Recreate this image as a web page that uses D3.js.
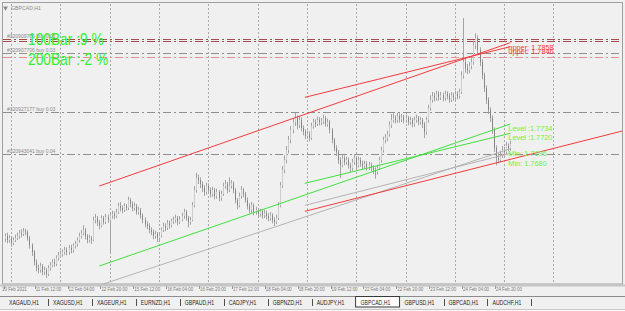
<!DOCTYPE html>
<html>
<head>
<meta charset="utf-8">
<script src="https://cdn.jsdelivr.net/npm/d3@7"></script>
<style>
body { margin: 0; background: #f0f0f0; overflow: hidden; }
svg { display: block; font-family: "Liberation Sans", Arial, sans-serif; }
</style>
</head>
<body>
<div id="chart"></div>
<script>
// GBPCAD H1 candles, bar 0 = 10 Feb 21:00
const opens = [1.7561,1.7565,1.7559,1.7562,1.7554,1.7559,1.7562,1.7565,1.7569,1.7568,
1.7572,1.7571,1.7562,1.7551,1.7541,1.7526,1.7517,1.7514,1.7520,1.7511,
1.7514,1.7508,1.7517,1.7521,1.7526,1.7523,1.7532,1.7536,1.7538,1.7541,
1.7544,1.7541,1.7547,1.7544,1.7550,1.7553,1.7559,1.7565,1.7569,1.7574,
1.7565,1.7559,1.7562,1.7559,1.7589,1.7592,1.7586,1.7581,1.7592,1.7586,
1.7593,1.7589,1.7596,1.7598,1.7595,1.7601,1.7610,1.7607,1.7604,1.7610,
1.7607,1.7619,1.7613,1.7607,1.7610,1.7601,1.7604,1.7596,1.7589,1.7583,
1.7580,1.7574,1.7571,1.7565,1.7568,1.7562,1.7566,1.7574,1.7580,1.7577,
1.7584,1.7581,1.7587,1.7589,1.7592,1.7586,1.7590,1.7595,1.7601,1.7592,
1.7586,1.7589,1.7611,1.7634,1.7652,1.7649,1.7643,1.7637,1.7631,1.7640,
1.7634,1.7628,1.7634,1.7625,1.7631,1.7622,1.7628,1.7640,1.7643,1.7634,
1.7640,1.7644,1.7634,1.7619,1.7611,1.7625,1.7634,1.7628,1.7619,1.7610,
1.7604,1.7611,1.7601,1.7604,1.7598,1.7602,1.7596,1.7599,1.7595,1.7592,
1.7596,1.7589,1.7586,1.7592,1.7611,1.7641,1.7664,1.7679,1.7694,1.7709,
1.7724,1.7736,1.7742,1.7731,1.7739,1.7727,1.7721,1.7715,1.7718,1.7712,
1.7730,1.7736,1.7733,1.7739,1.7736,1.7737,1.7742,1.7733,1.7736,1.7724,
1.7709,1.7697,1.7691,1.7679,1.7671,1.7682,1.7676,1.7679,1.7671,1.7667,
1.7676,1.7682,1.7671,1.7679,1.7674,1.7670,1.7673,1.7668,1.7671,1.7667,
1.7664,1.7661,1.7667,1.7679,1.7694,1.7709,1.7712,1.7718,1.7731,1.7739,
1.7742,1.7739,1.7745,1.7740,1.7743,1.7739,1.7742,1.7736,1.7739,1.7733,
1.7739,1.7742,1.7736,1.7739,1.7733,1.7721,1.7739,1.7757,1.7769,1.7775,
1.7772,1.7778,1.7773,1.7776,1.7772,1.7778,1.7775,1.7770,1.7776,1.7773,
1.7778,1.7775,1.7781,1.7806,1.7826,1.7817,1.7814,1.7820,1.7826,1.7851,
1.7862,1.7844,1.7826,1.7806,1.7787,1.7769,1.7754,1.7742,1.7724,1.7697,
1.7682,1.7679,1.7686,1.7694,1.7691,1.7700,1.7697];
const highs = [1.7569,1.7570,1.7566,1.7565,1.7563,1.7567,1.7570,1.7574,1.7575,1.7577,
1.7576,1.7574,1.7565,1.7554,1.7544,1.7530,1.7522,1.7525,1.7523,1.7519,
1.7517,1.7521,1.7526,1.7530,1.7531,1.7536,1.7541,1.7543,1.7545,1.7549,
1.7548,1.7551,1.7552,1.7554,1.7558,1.7563,1.7570,1.7574,1.7581,1.7577,
1.7568,1.7567,1.7565,1.7594,1.7598,1.7595,1.7589,1.7596,1.7595,1.7598,
1.7597,1.7600,1.7603,1.7602,1.7606,1.7615,1.7616,1.7611,1.7614,1.7613,
1.7624,1.7622,1.7617,1.7615,1.7613,1.7609,1.7607,1.7599,1.7593,1.7587,
1.7584,1.7578,1.7575,1.7573,1.7571,1.7570,1.7578,1.7585,1.7584,1.7589,
1.7588,1.7591,1.7594,1.7597,1.7595,1.7595,1.7600,1.7606,1.7604,1.7595,
1.7594,1.7616,1.7640,1.7660,1.7657,1.7653,1.7647,1.7641,1.7645,1.7644,
1.7638,1.7639,1.7637,1.7636,1.7634,1.7633,1.7645,1.7649,1.7646,1.7653,
1.7649,1.7647,1.7637,1.7622,1.7630,1.7640,1.7637,1.7631,1.7623,1.7614,
1.7616,1.7614,1.7609,1.7607,1.7606,1.7605,1.7604,1.7603,1.7599,1.7601,
1.7599,1.7593,1.7597,1.7616,1.7646,1.7670,1.7686,1.7700,1.7715,1.7730,
1.7742,1.7750,1.7746,1.7745,1.7743,1.7731,1.7725,1.7723,1.7722,1.7735,
1.7741,1.7740,1.7744,1.7743,1.7742,1.7747,1.7745,1.7741,1.7739,1.7727,
1.7712,1.7701,1.7694,1.7683,1.7687,1.7686,1.7684,1.7683,1.7675,1.7681,
1.7688,1.7685,1.7684,1.7683,1.7678,1.7678,1.7677,1.7676,1.7675,1.7671,
1.7668,1.7672,1.7684,1.7699,1.7714,1.7718,1.7723,1.7737,1.7748,1.7749,
1.7746,1.7750,1.7749,1.7748,1.7747,1.7747,1.7745,1.7744,1.7742,1.7744,
1.7747,1.7745,1.7744,1.7742,1.7736,1.7744,1.7762,1.7776,1.7781,1.7780,
1.7783,1.7782,1.7781,1.7780,1.7783,1.7782,1.7779,1.7781,1.7780,1.7783,
1.7782,1.7786,1.7812,1.7892,1.7832,1.7823,1.7826,1.7834,1.7858,1.7869,
1.7866,1.7848,1.7830,1.7810,1.7791,1.7773,1.7758,1.7746,1.7728,1.7701,
1.7689,1.7693,1.7700,1.7699,1.7706,1.7704,1.7708];
const lows = [1.7556,1.7554,1.7555,1.7549,1.7551,1.7556,1.7559,1.7561,1.7563,1.7565,
1.7566,1.7558,1.7546,1.7535,1.7521,1.7512,1.7509,1.7510,1.7506,1.7507,
1.7502,1.7505,1.7513,1.7518,1.7519,1.7520,1.7528,1.7532,1.7534,1.7537,
1.7536,1.7537,1.7539,1.7540,1.7546,1.7549,1.7555,1.7561,1.7566,1.7560,
1.7554,1.7555,1.7553,1.7557,1.7584,1.7580,1.7575,1.7578,1.7582,1.7583,
1.7585,1.7541,1.7591,1.7590,1.7592,1.7598,1.7602,1.7599,1.7601,1.7603,
1.7604,1.7608,1.7602,1.7603,1.7597,1.7597,1.7591,1.7584,1.7578,1.7575,
1.7569,1.7566,1.7560,1.7561,1.7556,1.7557,1.7563,1.7571,1.7572,1.7574,
1.7576,1.7578,1.7583,1.7585,1.7581,1.7583,1.7587,1.7591,1.7588,1.7578,
1.7582,1.7587,1.7608,1.7630,1.7643,1.7637,1.7631,1.7625,1.7627,1.7629,
1.7623,1.7624,1.7620,1.7621,1.7617,1.7618,1.7625,1.7636,1.7629,1.7631,
1.7636,1.7629,1.7614,1.7605,1.7608,1.7621,1.7623,1.7615,1.7605,1.7599,
1.7600,1.7596,1.7597,1.7593,1.7594,1.7591,1.7592,1.7590,1.7587,1.7588,
1.7584,1.7580,1.7583,1.7589,1.7608,1.7637,1.7659,1.7674,1.7689,1.7704,
1.7719,1.7730,1.7725,1.7727,1.7722,1.7716,1.7710,1.7711,1.7707,1.7709,
1.7726,1.7728,1.7730,1.7731,1.7731,1.7733,1.7729,1.7729,1.7719,1.7704,
1.7692,1.7685,1.7673,1.7652,1.7668,1.7671,1.7672,1.7666,1.7661,1.7663,
1.7672,1.7666,1.7668,1.7669,1.7665,1.7666,1.7663,1.7664,1.7662,1.7658,
1.7651,1.7657,1.7664,1.7675,1.7690,1.7704,1.7707,1.7714,1.7727,1.7735,
1.7734,1.7735,1.7735,1.7736,1.7734,1.7735,1.7731,1.7732,1.7728,1.7729,
1.7735,1.7731,1.7732,1.7727,1.7712,1.7717,1.7735,1.7753,1.7765,1.7767,
1.7768,1.7768,1.7769,1.7767,1.7768,1.7770,1.7765,1.7766,1.7768,1.7769,
1.7770,1.7771,1.7778,1.7801,1.7810,1.7808,1.7809,1.7815,1.7822,1.7845,
1.7838,1.7820,1.7800,1.7781,1.7763,1.7748,1.7736,1.7718,1.7691,1.7671,
1.7674,1.7675,1.7682,1.7685,1.7687,1.7692,1.7693];
const closes = [1.7565,1.7559,1.7562,1.7554,1.7559,1.7562,1.7565,1.7569,1.7568,1.7572,
1.7571,1.7562,1.7551,1.7541,1.7526,1.7517,1.7514,1.7520,1.7511,1.7514,
1.7508,1.7517,1.7521,1.7526,1.7523,1.7532,1.7536,1.7538,1.7541,1.7544,
1.7541,1.7547,1.7544,1.7550,1.7553,1.7559,1.7565,1.7569,1.7574,1.7565,
1.7559,1.7562,1.7559,1.7589,1.7592,1.7586,1.7581,1.7592,1.7586,1.7593,
1.7589,1.7596,1.7598,1.7595,1.7601,1.7610,1.7607,1.7604,1.7610,1.7607,
1.7619,1.7613,1.7607,1.7610,1.7601,1.7604,1.7596,1.7589,1.7583,1.7580,
1.7574,1.7571,1.7565,1.7568,1.7562,1.7566,1.7574,1.7580,1.7577,1.7584,
1.7581,1.7587,1.7589,1.7592,1.7586,1.7590,1.7595,1.7601,1.7592,1.7586,
1.7589,1.7611,1.7634,1.7652,1.7649,1.7643,1.7637,1.7631,1.7640,1.7634,
1.7628,1.7634,1.7625,1.7631,1.7622,1.7628,1.7640,1.7643,1.7634,1.7640,
1.7644,1.7634,1.7619,1.7611,1.7625,1.7634,1.7628,1.7619,1.7610,1.7604,
1.7611,1.7601,1.7604,1.7598,1.7602,1.7596,1.7599,1.7595,1.7592,1.7596,
1.7589,1.7586,1.7592,1.7611,1.7641,1.7664,1.7679,1.7694,1.7709,1.7724,
1.7736,1.7742,1.7731,1.7739,1.7727,1.7721,1.7715,1.7718,1.7712,1.7730,
1.7736,1.7733,1.7739,1.7736,1.7737,1.7742,1.7733,1.7736,1.7724,1.7709,
1.7697,1.7691,1.7679,1.7671,1.7682,1.7676,1.7679,1.7671,1.7667,1.7676,
1.7682,1.7671,1.7679,1.7674,1.7670,1.7673,1.7668,1.7671,1.7667,1.7664,
1.7661,1.7667,1.7679,1.7694,1.7709,1.7712,1.7718,1.7731,1.7739,1.7742,
1.7739,1.7745,1.7740,1.7743,1.7739,1.7742,1.7736,1.7739,1.7733,1.7739,
1.7742,1.7736,1.7739,1.7733,1.7721,1.7739,1.7757,1.7769,1.7775,1.7772,
1.7778,1.7773,1.7776,1.7772,1.7778,1.7775,1.7770,1.7776,1.7773,1.7778,
1.7775,1.7781,1.7806,1.7826,1.7817,1.7814,1.7820,1.7826,1.7851,1.7862,
1.7844,1.7826,1.7806,1.7787,1.7769,1.7754,1.7742,1.7724,1.7697,1.7682,
1.7679,1.7686,1.7694,1.7691,1.7700,1.7697,1.7703];

// time axis
const tickLabels = ["10 Feb 2021","11 Feb 12:00","12 Feb 04:00","12 Feb 20:00","15 Feb 12:00","16 Feb 04:00",
  "16 Feb 20:00","17 Feb 12:00","18 Feb 04:00","18 Feb 20:00","19 Feb 12:00","22 Feb 04:00",
  "22 Feb 20:00","23 Feb 12:00","24 Feb 04:00","24 Feb 20:00"];
const tickBars = [0,15,31,47,63,79,95,111,127,143,159,175,191,207,223,239];
const gridBars = [3,27,51,75,99,123,147,171,195,219,243,267];   // midnights

// regression channels (100 and 200 bars)
const chanKind   = ["upper","upper","level","level","min","min","low"];
const chanFrom   = [46,146,46,146,46,146,146];
const chanTo     = [246,246,246,246,246,246,246];
const chanP0     = [1.7640,1.7773,1.7520,1.7644,1.7491,1.7611,1.7602];
const chanP1     = [1.7855,1.7849,1.7733,1.7719,1.7696,1.7689,1.7680];
const chanLabels = ["upper: 1.7858","upper: 1.7846","Level :1.7734","Level :1.7720","Min: 1.7696","","Min: 1.7680"];

// open order lines
const orderPrices = [1.7860,1.7857,1.7839,1.7833,1.7751,1.7688];
const orderKinds  = ["tp","tp","entry","sl","entry","entry"];
const orderLabels = ["#320909706 buy 0.03","","#320907706 buy 0.03","","#320927177 buy 0.03","#320943041 buy 0.04"];

const statLabels = ["100Bar :9 %","200Bar :-2 %"];
const tabNames = ["XAGAUD,H1","XAGUSD,H1","XAGEUR,H1","EURNZD,H1","GBPAUD,H1","CADJPY,H1",
  "GBPNZD,H1","AUDJPY,H1","GBPCAD,H1","GBPUSD,H1","GBPCAD,H1","AUDCHF,H1"];
const activeTab = 8;

const W = 625, H = 311;
const plot = {left: 3, right: 622, top: 4, bottom: 284};

const svg = d3.select("#chart").append("svg").attr("width", W).attr("height", H);
svg.append("rect").attr("width", W).attr("height", H).attr("fill", "#f0f0f0");

svg.append("clipPath").attr("id", "clip").append("rect")
  .attr("x", plot.left).attr("y", plot.top)
  .attr("width", plot.right - plot.left).attr("height", plot.bottom - plot.top);

const x = d3.scaleLinear().domain([0, 300]).range([4.8, 4.8 + 300 * 2.055]);
const y = d3.scaleLinear().domain([1.7493, 1.7913]).range([plot.bottom, plot.top]);
const px = v => Math.round(v) + 0.5;

const g = svg.append("g").attr("clip-path", "url(#clip)");

// vertical grid
g.selectAll(".grid").data(gridBars).join("line")
  .attr("x1", d => px(x(d))).attr("x2", d => px(x(d)))
  .attr("y1", plot.top).attr("y2", plot.bottom)
  .attr("stroke", "#a9a9a9").attr("stroke-dasharray", "2,2");

// order lines
const orderColor = {tp: "#a84848", entry: "#8e8e8e", sl: "#e49090"};
g.selectAll(".ord").data(orderPrices).join("line")
  .attr("x1", plot.left).attr("x2", plot.right)
  .attr("y1", d => px(y(d))).attr("y2", d => px(y(d)))
  .attr("stroke", (d, i) => orderColor[orderKinds[i]])
  .attr("stroke-dasharray", "8,3,2,3");
g.selectAll(".ordl").data(orderPrices).join("text")
  .attr("x", 7).attr("y", d => y(d) - 1.5)
  .attr("font-size", 5).attr("fill", "#8a8a8a")
  .text((d, i) => orderLabels[i]);

// candles
const bars = closes.map((c, i) => ({i, o: opens[i], h: highs[i], l: lows[i], c}));
g.selectAll(".wick").data(bars).join("line")
  .attr("x1", d => px(x(d.i))).attr("x2", d => px(x(d.i)))
  .attr("y1", d => y(d.h)).attr("y2", d => y(d.l))
  .attr("stroke", "#a3a3a3");
g.selectAll(".body").data(bars).join("line")
  .attr("x1", d => px(x(d.i))).attr("x2", d => px(x(d.i)))
  .attr("y1", d => y(Math.max(d.o, d.c)))
  .attr("y2", d => Math.max(y(Math.min(d.o, d.c)), y(Math.max(d.o, d.c)) + 1))
  .attr("stroke", d => d.c >= d.o ? "#cdcdcd" : "#858585");

// channel lines
const chanColor = {upper: "#f03c3c", level: "#3fe03f", min: "#b4b4b4", low: "#f03c3c"};
const chans = chanKind.map((k, i) => {
  let x2 = x(chanTo[i]), y2 = y(chanP1[i]);
  if (k === "low") {   // ray to the right edge
    const slope = (y(chanP1[i]) - y(chanP0[i])) / (x(chanTo[i]) - x(chanFrom[i]));
    y2 = y2 + slope * (plot.right - x2);
    x2 = plot.right;
  }
  return {k, x1: x(chanFrom[i]), y1: y(chanP0[i]), x2, y2,
          xe: x(chanTo[i]), ye: y(chanP1[i]), label: chanLabels[i]};
});
g.selectAll(".chan").data(chans).join("line")
  .attr("x1", d => d.x1).attr("y1", d => d.y1)
  .attr("x2", d => d.x2).attr("y2", d => d.y2)
  .attr("stroke", d => chanColor[d.k]).attr("stroke-width", 1);
g.selectAll(".chanl").data(chans.filter(d => d.label)).join("text")
  .attr("transform", d => `translate(${d.xe - 2},${d.ye + 7}) scale(0.92,1)`)
  .attr("font-size", 8)
  .attr("fill", d => d.k === "upper" ? "#f23a3a" : "#6cf23c")
  .text(d => d.label);

// bar statistics
svg.selectAll(".stat").data(statLabels).join("text")
  .attr("transform", (d, i) => `translate(28,${45 + i * 20}) scale(0.86,1)`)
  .attr("font-size", 16).attr("fill", "#2ef02e")
  .text(d => d);

// symbol caption
svg.append("path").attr("d", d3.symbol(d3.symbolTriangle, 10))
  .attr("transform", "translate(5.5,8) rotate(180)").attr("fill", "#8a8a8a");
svg.append("text").attr("x", 11).attr("y", 10).attr("font-size", 5.2)
  .attr("fill", "#8a8a8a").text("GBPCAD,H1");

// frame
svg.append("rect").attr("x", plot.left - 0.5).attr("y", plot.top - 1.5)
  .attr("width", plot.right - plot.left + 1).attr("height", plot.bottom - plot.top + 1.5)
  .attr("fill", "none").attr("stroke", "#a0a0a0");
svg.append("line").attr("x1", 0).attr("x2", W).attr("y1", 285.5).attr("y2", 285.5)
  .attr("stroke", "#c4c4c4").attr("stroke-width", 2);

// time axis
const tAxis = svg.append("g");
tAxis.selectAll("line").data(tickBars).join("line")
  .attr("x1", d => px(x(d) - 1)).attr("x2", d => px(x(d) - 1))
  .attr("y1", 286).attr("y2", 289).attr("stroke", "#9a9a9a");
tAxis.selectAll("text").data(tickLabels).join("text")
  .attr("transform", (d, i) => `translate(${i === 0 ? 2 : x(tickBars[i])},${291}) scale(0.82,1)`)
  .attr("font-size", 5.4).attr("fill", "#7a7a7a")
  .text(d => d);

// tab bar
svg.append("line").attr("x1", 0).attr("x2", W).attr("y1", 296.5).attr("y2", 296.5).attr("stroke", "#8c8c8c");
svg.append("line").attr("x1", 0).attr("x2", W).attr("y1", 309.5).attr("y2", 309.5).attr("stroke", "#c8c8c8");
svg.append("rect").attr("x", 0).attr("y", 310).attr("width", W).attr("height", 1).attr("fill", "#fafafa");
const tabX = d3.scaleLinear().domain([0, tabNames.length]).range([4.5, 4.5 + tabNames.length * 43.95]);
svg.append("rect")
  .attr("x", tabX(activeTab) - 0.5).attr("y", 296.5)
  .attr("width", tabX(activeTab + 1) - tabX(activeTab)).attr("height", 10.5)
  .attr("fill", "#ffffff").attr("stroke", "#3a3a3a");
svg.selectAll(".tab").data(tabNames).join("text")
  .attr("transform", (d, i) => `translate(${tabX(i) + 4.5},${305}) scale(0.76,1)`)
  .attr("font-size", 6.8).attr("fill", "#1e1e1e")
  .text(d => d);
svg.selectAll(".sep").data(tabNames.map((d, i) => i + 1).filter(i => i !== activeTab && i !== activeTab + 1))
  .join("line")
  .attr("x1", d => px(tabX(d) - 0.5)).attr("x2", d => px(tabX(d) - 0.5))
  .attr("y1", 299).attr("y2", 306).attr("stroke", "#505050");
</script>
</body>
</html>
